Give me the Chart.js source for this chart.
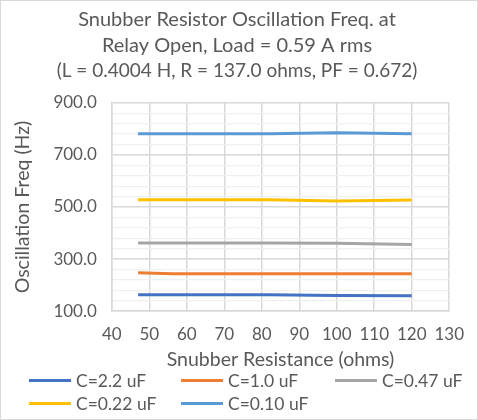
<!DOCTYPE html>
<html>
<head>
<meta charset="utf-8">
<script src="https://cdn.jsdelivr.net/npm/chart.js@4.4.1/dist/chart.umd.min.js"></script>
<style>
  html, body { margin: 0; padding: 0; background: #fff; }
  #wrap {
    position: relative;
    width: 478px; height: 420px;
    box-sizing: border-box;
    border: 1px solid #d9d9d9;
    font-family: Lato, 'Open Sans', sans-serif;
  }
  #plot { position: absolute; left: 0; top: 0; width: 476px; height: 370px; }
  #legend {
    position: absolute; left: 28px; top: 370px;
    display: grid;
    grid-template-columns: 152px 154px auto;
    row-gap: 4px;
    color: #595959; font-size: 17.5px;
  }
  #legend .item { display: flex; align-items: center; height: 19px; }
  #legend .swatch { width: 42px; height: 3px; margin-right: 5px; }
</style>
</head>
<body>
<div id="wrap">
  <div id="plot"><canvas id="freqChart"></canvas></div>
  <div id="legend"></div>
</div>
<script>
// snubber resistance values (ohms)
const resistance = [47, 56, 68, 82, 100, 120];

// oscillation frequency (Hz) per snubber capacitor
const freq_2_2uF = [163, 163, 163, 163, 160, 159];
const freq_1_0uF = [248, 244, 244, 244, 244, 244];
const freq_0_47uF = [362, 362, 362, 362, 361, 356];
const freq_0_22uF = [528, 528, 528, 528, 523, 527];
const freq_0_10uF = [781, 781, 781, 781, 785, 781];

const seriesNames = ['C=2.2 uF', 'C=1.0 uF', 'C=0.47 uF', 'C=0.22 uF', 'C=0.10 uF'];
const seriesColors = ['#4472C4', '#ED7D31', '#A5A5A5', '#FFC000', '#5B9BD5'];

const xTicks = [40, 50, 60, 70, 80, 90, 100, 110, 120, 130];
const yMajorTicks = [100, 300, 500, 700, 900];

const textColor = '#595959';
const fontFamily = "Lato, 'Open Sans', sans-serif";

function pts(values) {
  return resistance.map((r, i) => ({ x: r, y: values[i] }));
}

const seriesValues = [freq_2_2uF, freq_1_0uF, freq_0_47uF, freq_0_22uF, freq_0_10uF];

const chart = new Chart(document.getElementById('freqChart'), {
  type: 'line',
  data: {
    datasets: seriesValues.map((vals, i) => ({
      label: seriesNames[i],
      data: pts(vals),
      borderColor: seriesColors[i],
      backgroundColor: seriesColors[i],
      borderWidth: 3,
      pointRadius: 0,
      tension: 0,
      fill: false
    }))
  },
  options: {
    responsive: true,
    maintainAspectRatio: false,
    animation: false,
    layout: { padding: { left: 10, right: 14, bottom: 0 } },
    plugins: {
      legend: { display: false },
      tooltip: { enabled: false },
      title: {
        display: true,
        text: ['Snubber Resistor Oscillation Freq. at', 'Relay Open, Load = 0.59 A rms'],
        color: textColor,
        font: { family: fontFamily, size: 20, weight: 'normal', lineHeight: 1.3 },
        padding: { top: 6, bottom: 0 }
      },
      subtitle: {
        display: true,
        text: '(L = 0.4004 H, R = 137.0 ohms, PF = 0.672)',
        color: textColor,
        font: { family: fontFamily, size: 19, weight: 'normal' },
        padding: { top: 0, bottom: 21 }
      }
    },
    scales: {
      x: {
        type: 'linear',
        min: xTicks[0],
        max: xTicks[xTicks.length - 1],
        afterBuildTicks: axis => { axis.ticks = xTicks.map(v => ({ value: v })); },
        grid: { color: '#d9d9d9', lineWidth: 1.5, drawTicks: false },
        border: { color: '#d9d9d9', width: 1.5 },
        ticks: {
          color: textColor,
          padding: 13,
          font: { family: fontFamily, size: 17 }
        },
        title: {
          display: true,
          text: 'Snubber Resistance (ohms)',
          color: textColor,
          font: { family: fontFamily, size: 19.5 },
          padding: { top: -10, bottom: 0 }
        }
      },
      y: {
        min: yMajorTicks[0],
        max: yMajorTicks[yMajorTicks.length - 1],
        ticks: {
          stepSize: 40,
          autoSkip: false,
          color: textColor,
          padding: 15,
          font: { family: fontFamily, size: 17 },
          callback: v => yMajorTicks.includes(v) ? v.toFixed(1) : ''
        },
        grid: {
          drawTicks: false,
          color: ctx => yMajorTicks.includes(ctx.tick.value) ? '#d9d9d9' : '#f0f0f0',
          lineWidth: ctx => yMajorTicks.includes(ctx.tick.value) ? 1.5 : 1.2
        },
        border: { color: '#d9d9d9', width: 1.5 },
        title: {
          display: true,
          text: 'Oscillation Freq (Hz)',
          color: textColor,
          font: { family: fontFamily, size: 19.5 },
          padding: { top: 0, bottom: 4 }
        }
      }
    }
  }
});

// Excel-style legend laid out in columns
const legendBox = document.getElementById('legend');
chart.data.datasets.forEach(ds => {
  const item = document.createElement('div');
  item.className = 'item';
  const sw = document.createElement('span');
  sw.className = 'swatch';
  sw.style.background = ds.borderColor;
  const label = document.createElement('span');
  label.textContent = ds.label;
  item.appendChild(sw);
  item.appendChild(label);
  legendBox.appendChild(item);
});
</script>
</body>
</html>
